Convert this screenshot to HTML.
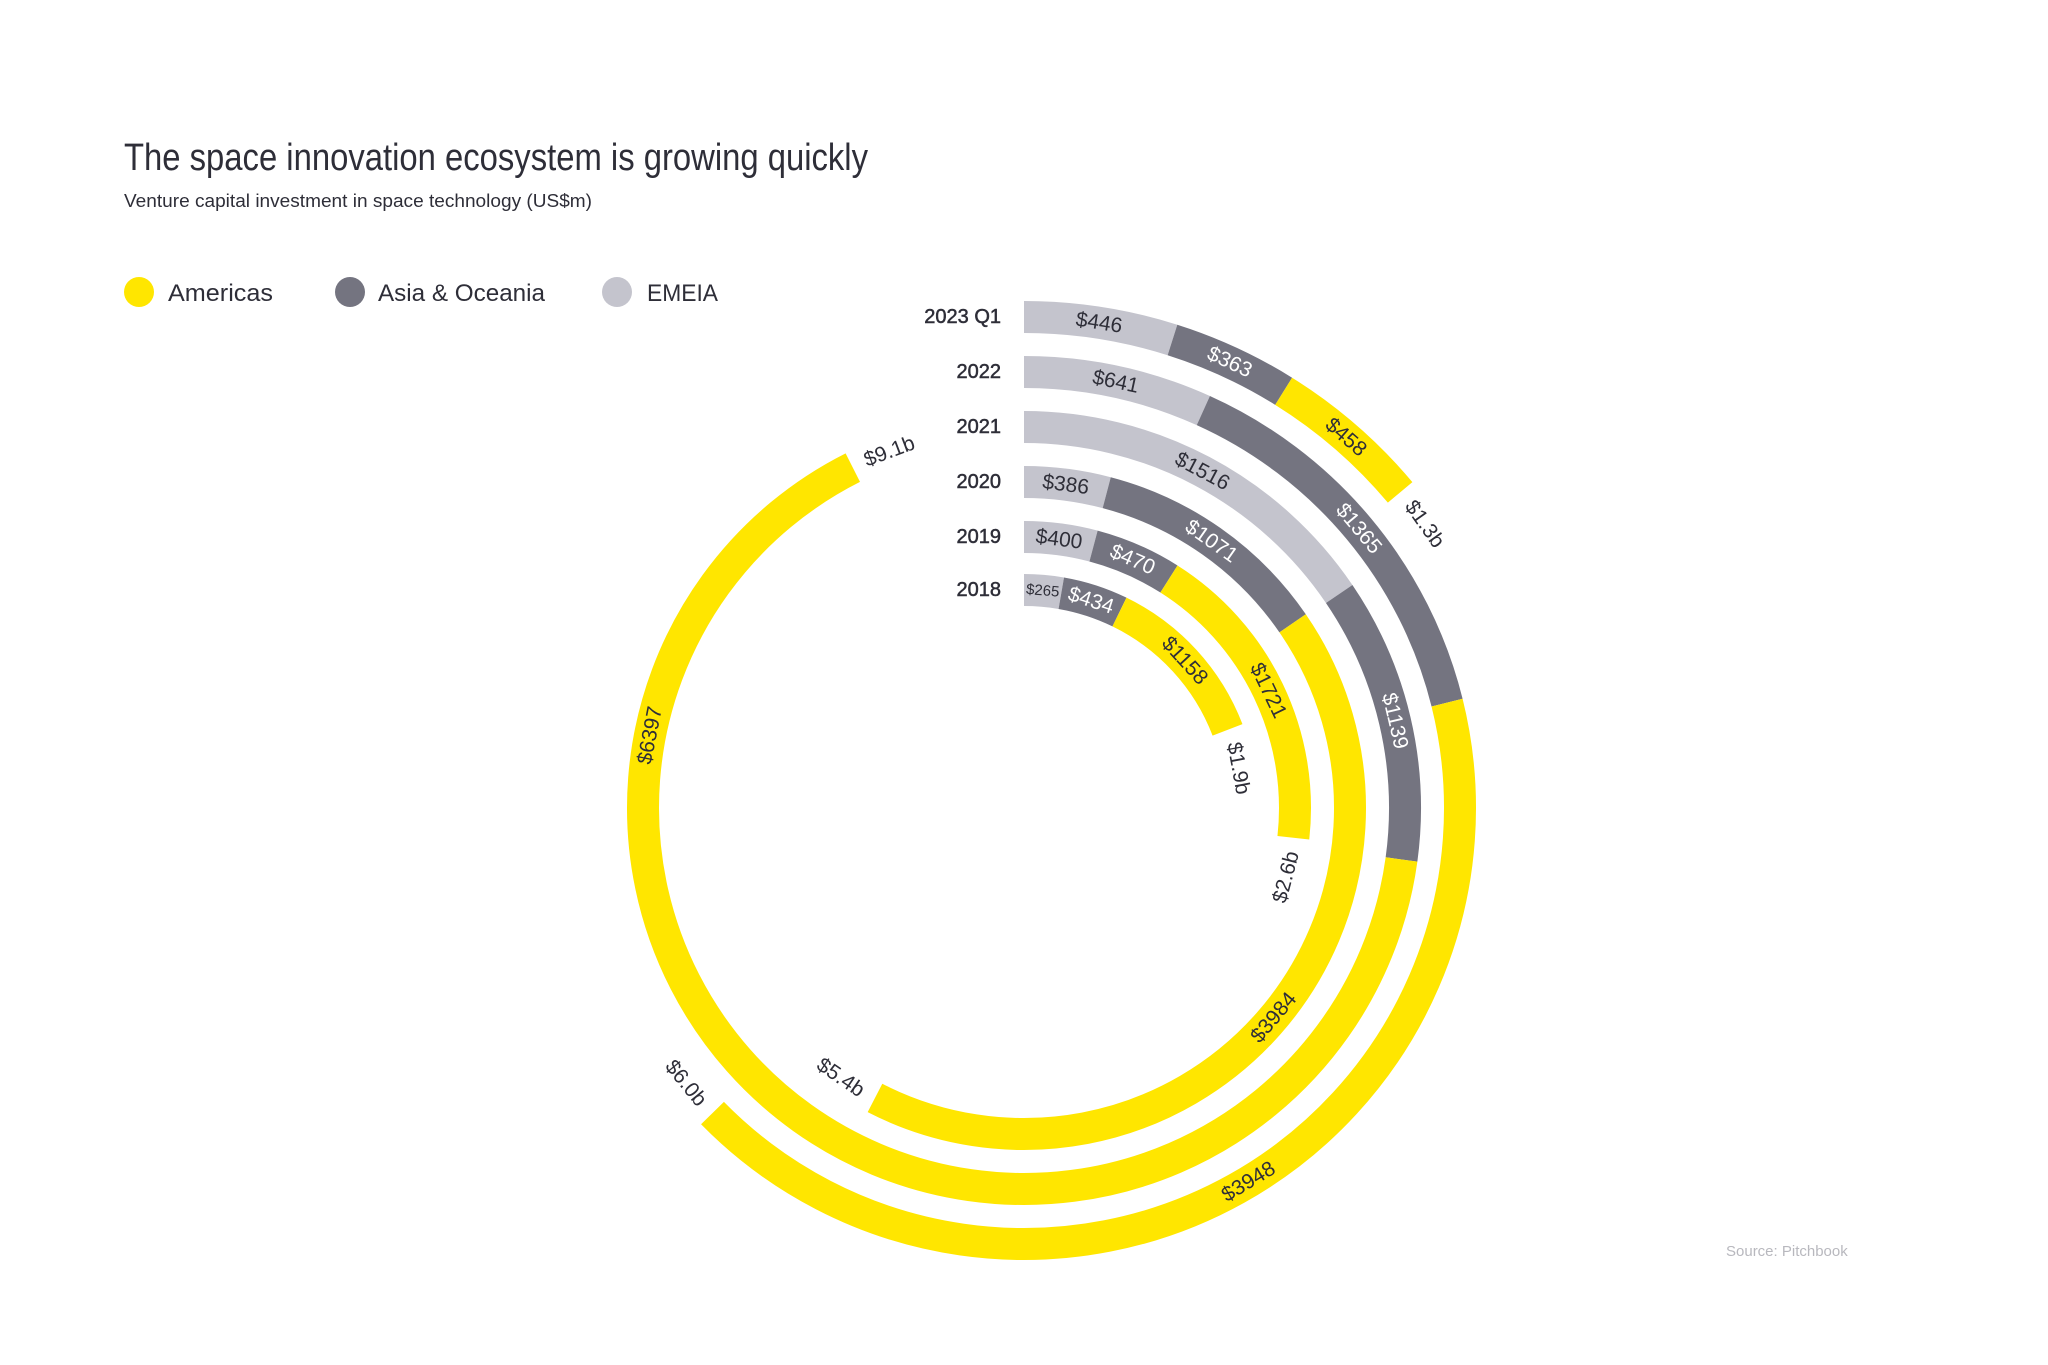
<!DOCTYPE html>
<html><head><meta charset="utf-8"><style>
html,body{margin:0;padding:0;background:#fff;}
svg{display:block;font-family:"Liberation Sans",sans-serif;}
</style></head><body>
<svg id="s" width="2048" height="1365" viewBox="0 0 2048 1365" xmlns="http://www.w3.org/2000/svg">
<rect width="2048" height="1365" fill="#fff"/>
<text x="124" y="170" font-size="38" fill="#2e2e38" textLength="744" lengthAdjust="spacingAndGlyphs">The space innovation ecosystem is growing quickly</text>
<text x="124" y="207" font-size="18" fill="#2e2e38" textLength="468" lengthAdjust="spacingAndGlyphs">Venture capital investment in space technology (US$m)</text>
<circle cx="139" cy="292" r="15" fill="#FFE600"/>
<text x="168" y="301" font-size="24" fill="#2e2e38" textLength="105" lengthAdjust="spacingAndGlyphs">Americas</text>
<circle cx="350" cy="292" r="15" fill="#747480"/>
<text x="378" y="301" font-size="24" fill="#2e2e38" textLength="167" lengthAdjust="spacingAndGlyphs">Asia &amp; Oceania</text>
<circle cx="617" cy="292" r="15" fill="#C4C4CD"/>
<text x="647" y="301" font-size="24" fill="#2e2e38" textLength="71" lengthAdjust="spacingAndGlyphs">EMEIA</text>
<text x="1726" y="1256" font-size="15" fill="#b8b8be">Source: Pitchbook</text>
<g id="g"></g>
</svg>
<script>
var cx=1024,cy=808,W=32;
var Y="#FFE600",D="#747480",L="#C4C4CD";
var rings=[
 {y:"2023 Q1",r:491,end:50,tot:"$1.3b",seg:[[446,L],[363,D],[458,Y]]},
 {y:"2022",r:436,end:225.6,tot:"$6.0b",seg:[[641,L],[1365,D],[3948,Y,149]]},
 {y:"2021",r:381,end:333.3,tot:"$9.1b",seg:[[1516,L],[1139,D],[6397,Y,281]]},
 {y:"2020",r:326,end:207.2,tot:"$5.4b",seg:[[386,L],[1071,D],[3984,Y,130]]},
 {y:"2019",r:271,end:96.3,tot:"$2.6b",seg:[[400,L],[470,D],[1721,Y]]},
 {y:"2018",r:218,end:69,tot:"$1.9b",seg:[[265,L],[434,D],[1158,Y]]}
];
var ns="http://www.w3.org/2000/svg",g=document.getElementById("g");
function pt(r,a){a=a*Math.PI/180;return [cx+r*Math.sin(a),cy-r*Math.cos(a)];}
function el(t,at,txt){var e=document.createElementNS(ns,t);for(var k in at)e.setAttribute(k,at[k]);if(txt)e.textContent=txt;g.appendChild(e);return e;}
function rot(a){a=((a%360)+360)%360;return (a>100&&a<260)?a-180:a;}
rings.forEach(function(R){
 var tot=R.seg.reduce(function(s,x){return s+x[0]},0),k=R.end/tot,a0=0;
 R.seg.forEach(function(s){
  var a1=a0+s[0]*k,p0=pt(R.r,a0),p1=pt(R.r,a1),lg=(a1-a0)>180?1:0;
  el("path",{d:"M"+p0[0]+" "+p0[1]+" A"+R.r+" "+R.r+" 0 "+lg+" 1 "+p1[0]+" "+p1[1],fill:"none",stroke:s[1],"stroke-width":W});
  var am=s[2]!==undefined?s[2]:(a0+a1)/2,pm=pt(R.r,am),small=s[0]<300;
  el("text",{x:pm[0],y:pm[1],"font-size":small?15:21,"text-anchor":"middle","dominant-baseline":"central",fill:s[1]==D?"#fff":"#2e2e38",transform:"rotate("+rot(am)+" "+pm[0]+" "+pm[1]+")"},"$"+s[0]);
  a0=a1;
 });
 var at=R.end+(40/R.r)*180/Math.PI,pt2=pt(R.r,at);
 el("text",{x:pt2[0],y:pt2[1],"font-size":21,"text-anchor":"middle","dominant-baseline":"central",fill:"#2e2e38",transform:"rotate("+rot(at)+" "+pt2[0]+" "+pt2[1]+")"},R.tot);
 el("text",{x:1001,y:cy-R.r,"font-size":20,"text-anchor":"end","dominant-baseline":"central",fill:"#2e2e38",stroke:"#2e2e38","stroke-width":"0.5"},R.y);
});
</script>
</body></html>
